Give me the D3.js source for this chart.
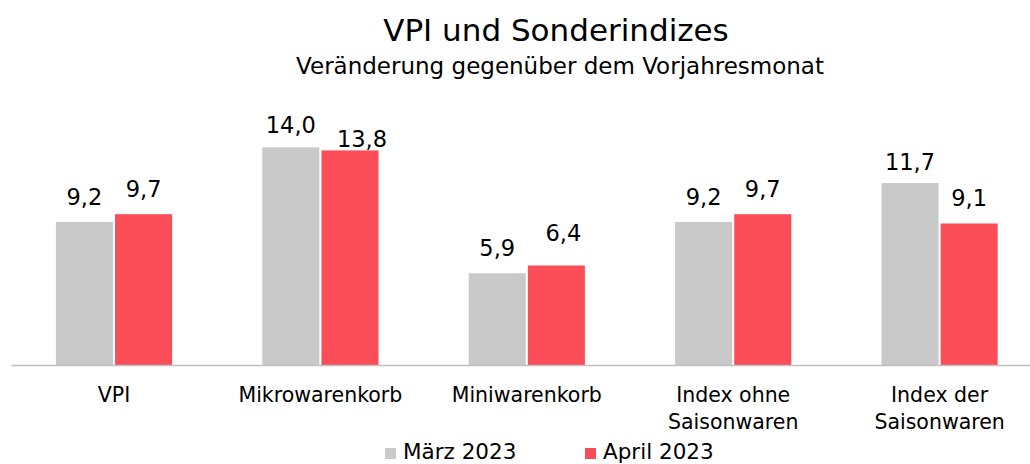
<!DOCTYPE html>
<html>
<head>
<meta charset="utf-8">
<script src="https://cdn.jsdelivr.net/npm/d3@7"></script>
<style>
  body { margin: 0; background: #fff; }
  svg { display: block; font-family: 'DejaVu Sans', sans-serif; }
</style>
</head>
<body>
<div id="root"></div>
<script>
// data
const categories = ['VPI', 'Mikrowarenkorb', 'Miniwarenkorb', 'Index ohne\nSaisonwaren', 'Index der\nSaisonwaren']
const seriesNames = ['März 2023', 'April 2023']
const maerz2023 = [9.2, 14.0, 5.9, 9.2, 11.7]
const april2023 = [9.7, 13.8, 6.4, 9.7, 9.1]

// layout
const width = 1030
const height = 464
const baseY = 365
const colors = ['#c9c9c9', '#fb4d57']
// hand-placed label nudges in the original, [dx, dy] per series per category
const labelNudge = [
  [[0, 0], [0, 0]],
  [[0, 3], [12, 14]],
  [[0, 0], [7, -7]],
  [[0, 0], [0, 0]],
  [[0, 4], [0, 0]]
]

const rows = categories.map((c, i) => ({ cat: c, i, values: [maerz2023[i], april2023[i]] }))

const svg = d3.select('#root').append('svg')
  .attr('width', width)
  .attr('height', height)

const x0 = d3.scaleBand()
  .domain(categories)
  .range([10.8, 1042.8])
  .paddingInner(0.437)
  .paddingOuter(0.2185)

const x1 = d3.scaleBand()
  .domain(seriesNames)
  .range([0, x0.bandwidth()])
  .paddingInner(0.035)

const y = d3.scaleLinear()
  .domain([0, 14])
  .range([baseY, baseY - 14 * 15.55])

// title
svg.append('text')
  .attr('x', 556)
  .attr('y', 41)
  .attr('text-anchor', 'middle')
  .attr('font-size', 31)
  .attr('fill', '#000')
  .text('VPI und Sonderindizes')
svg.append('text')
  .attr('x', 560)
  .attr('y', 74)
  .attr('text-anchor', 'middle')
  .attr('font-size', 23)
  .attr('fill', '#000')
  .text('Veränderung gegenüber dem Vorjahresmonat')

// bars
const groups = svg.append('g').selectAll('g.cat')
  .data(rows)
  .join('g')
  .attr('class', 'cat')
  .attr('transform', d => `translate(${x0(d.cat)},0)`)

groups.selectAll('rect')
  .data(d => d.values.map((v, s) => ({ v, s, i: d.i })))
  .join('rect')
  .attr('x', d => x1(seriesNames[d.s]))
  .attr('y', d => y(d.v))
  .attr('width', x1.bandwidth())
  .attr('height', d => baseY - y(d.v))
  .attr('fill', d => colors[d.s])

groups.selectAll('text.val')
  .data(d => d.values.map((v, s) => ({ v, s, i: d.i })))
  .join('text')
  .attr('class', 'val')
  .attr('x', d => x1(seriesNames[d.s]) + x1.bandwidth() / 2 + labelNudge[d.i][d.s][0])
  .attr('y', d => y(d.v) - 17 + labelNudge[d.i][d.s][1])
  .attr('text-anchor', 'middle')
  .attr('font-size', 22.5)
  .attr('fill', '#000')
  .text(d => d3.format('.1f')(d.v).replace('.', ','))

// axis
const xAxis = svg.append('g')
  .attr('transform', `translate(0,${baseY})`)
  .call(d3.axisBottom(x0).tickSize(0).tickFormat(''))
xAxis.select('.domain').attr('stroke', '#c0c0c0').attr('stroke-width', 1.5)

const catLabels = svg.append('g').selectAll('text')
  .data(categories)
  .join('text')
  .attr('x', d => x0(d) + x0.bandwidth() / 2)
  .attr('y', 402)
  .attr('text-anchor', 'middle')
  .attr('font-size', 20.5)
  .attr('fill', '#000')
catLabels.selectAll('tspan')
  .data(d => d.split('\n'))
  .join('tspan')
  .attr('x', function () { return d3.select(this.parentNode).attr('x') })
  .attr('dy', (_d, i) => i === 0 ? 0 : 26.6)
  .text(d => d)

// legend
const legendX = [385, 585]
const legend = svg.append('g').selectAll('g')
  .data(seriesNames)
  .join('g')
  .attr('transform', (_d, i) => `translate(${legendX[i]},0)`)
legend.append('rect')
  .attr('x', 0)
  .attr('y', 448)
  .attr('width', 11)
  .attr('height', 11)
  .attr('fill', (_d, i) => colors[i])
legend.append('text')
  .attr('x', 18)
  .attr('y', 459)
  .attr('font-size', 21.5)
  .attr('fill', '#000')
  .text(d => d)
</script>
</body>
</html>
